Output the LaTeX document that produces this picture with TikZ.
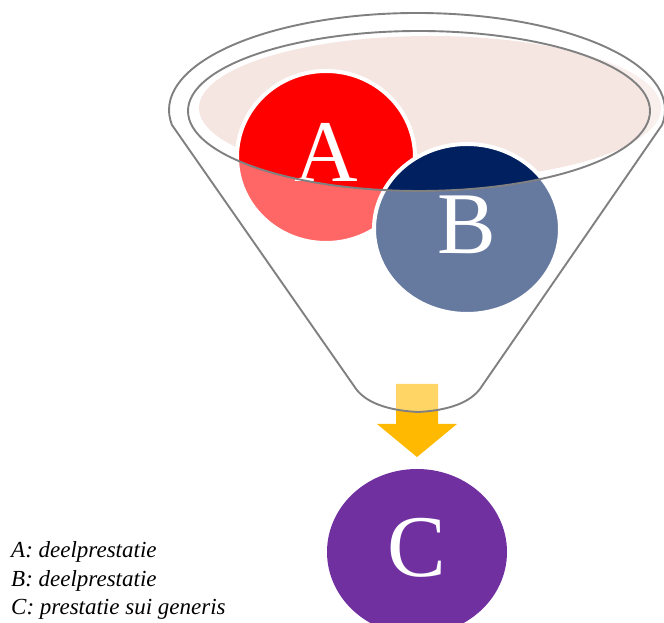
\documentclass[tikz,border=0pt]{standalone}
\usepackage{fontspec}
\setmainfont{Liberation Serif}[ItalicFont={Liberation Serif Italic}]
\usetikzlibrary{shapes.geometric, positioning}
\definecolor{FunnelGrey}{HTML}{808080}
\definecolor{RimPink}{HTML}{F5E6E2}
\definecolor{PartRed}{HTML}{FF0000}
\definecolor{PartNavy}{HTML}{002060}
\definecolor{WholePurple}{HTML}{7030A0}
\definecolor{ArrowGold}{HTML}{FFB900}

\begin{document}
\begin{tikzpicture}[x=1pt, y=1pt,
    part/.style={ellipse, inner sep=0pt, text=white, text height=58pt, text depth=8pt,
      font=\fontsize{88}{88}\selectfont},
    rim/.style={draw=FunnelGrey, line width=1.9pt},
    legend/.style={anchor=base west, inner sep=0pt, font=\fontsize{23}{28}\selectfont\itshape}]
                \useasboundingbox (0,0) rectangle (664,623);

                % Pink surface in the opening
                \fill[RimPink] (430,515) ellipse [x radius=231, y radius=72];

                % Parts A and B dropped in the funnel
                \node[part, draw=white, line width=4pt, fill=PartRed,
                    minimum width=178, minimum height=172] (A) at (326,466) {A};
                \node[part, draw=white, line width=4pt, fill=PartNavy,
                    minimum width=186, minimum height=170] (B) at (467,394) {B};

                % Arrow out of the spout
                \coordinate (spout) at (417,239);
                \fill[ArrowGold] (spout) ++(-21,0) -- ++(0,-40) -- ++(-19,0) -- ++(40,-33)
                    -- ++(40,33) -- ++(-19,0) -- ++(0,40) -- cycle;

                % Glass of the funnel (lightens what lies behind it)
                \fill[white, opacity=0.4, even odd rule]
                    (662,498) arc[start angle=-8.9, end angle=188.9, x radius=248, y radius=97]
                    -- (354,237) .. controls (362,224) and (380,213) .. (418,211)
                    .. controls (456,213) and (474,224) .. (482,237) -- cycle
                    (419,512) ellipse [x radius=231, y radius=80];

                % Funnel outline and rim
                \draw[rim] (662,498) arc[start angle=-8.9, end angle=188.9, x radius=248, y radius=97]
                    -- (354,237) .. controls (362,224) and (380,213) .. (418,211)
                    .. controls (456,213) and (474,224) .. (482,237) -- cycle;
                \draw[rim] (419,512) ellipse [x radius=231, y radius=80];

                % Result C
                \node[part, fill=WholePurple, minimum width=180, minimum height=166] (C) at (417,71) {C};

                % Legend
                \node[legend] (legA) at (11,65) {A: deelprestatie};
                \node[legend] (legB) at (11,36) {B: deelprestatie};
                \node[legend] (legC) at (11,8) {C: prestatie sui generis};
\end{tikzpicture}
\end{document}
